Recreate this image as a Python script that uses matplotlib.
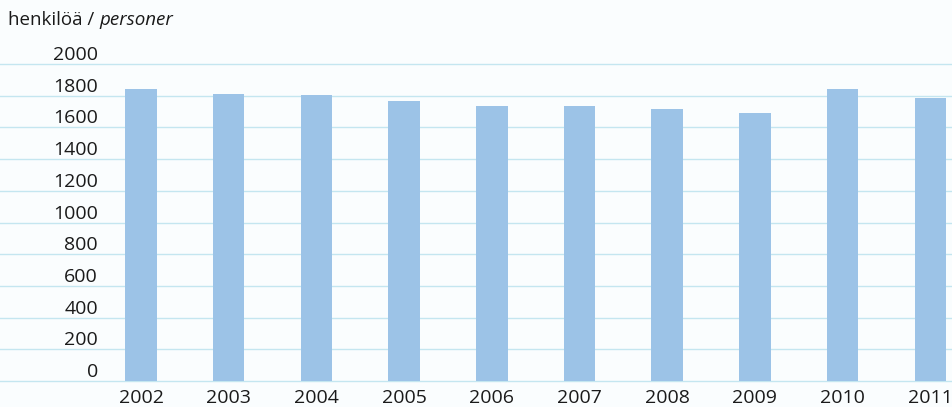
import numpy as np
import matplotlib
matplotlib.use("Agg")
import matplotlib.pyplot as plt
import matplotlib.transforms as mtransforms

plt.rcParams['font.family'] = ['Open Sans', 'DejaVu Sans']

# data
years = ["2002", "2003", "2004", "2005", "2006", "2007", "2008", "2009", "2010", "2011"]
persons = [1840, 1813, 1802, 1765, 1735, 1737, 1716, 1691, 1844, 1785]
yticks = [0, 200, 400, 600, 800, 1000, 1200, 1400, 1600, 1800, 2000]

W, H = 952, 407
bg = '#fafdfe'
fig = plt.figure(figsize=(W / 100, H / 100), dpi=100, facecolor=bg)

# axes spans the whole width so the grid lines run edge to edge
ax = fig.add_axes([0, (H - 385.75) / H, 1, (385.75 - 59.25) / H], facecolor=bg)

x = np.arange(len(years))
ax.bar(x, persons, width=0.36, color='#9cc3e7', zorder=2)

# place first bar centre at ~141 px, spacing ~87.7 px
step = 87.7
ax.set_xlim(-141 / step, (W - 141) / step)
ax.set_ylim(-30, 2030)

ax.set_yticks(yticks)
ax.grid(axis='y', color='#c4e6f0', lw=1.0, zorder=1)
ax.set_xticks([])
ax.tick_params(left=False, labelleft=False)
for s in ax.spines.values():
    s.set_visible(False)

# y labels sit to the left, slightly above their grid line
trans = mtransforms.blended_transform_factory(fig.transFigure, ax.transData)
off = mtransforms.ScaledTranslation(0, 9 / 100, fig.dpi_scale_trans)
for v in yticks:
    ax.text(98 / W, v, str(v), transform=trans + off, ha='right', va='center',
            fontsize=14, color='#1a1a1a', clip_on=False)

# year labels under the bars
for i, yr in enumerate(years):
    ax.text(i, 0, yr, transform=ax.transData + mtransforms.ScaledTranslation(0, -17 / 100, fig.dpi_scale_trans),
            ha='center', va='center', fontsize=14, color='#1a1a1a', clip_on=False)

t = fig.text(8 / W, 1 - 20 / H, "henkilöä / ", ha='left', va='center', fontsize=13.5, color='#1a1a1a')
fig.canvas.draw()
bb = t.get_window_extent()
fig.text(bb.x1 / W, 1 - 20 / H, "personer", ha='left', va='center', fontsize=13.5,
         style='italic', color='#1a1a1a')

fig.savefig("out.png", dpi=100, facecolor=bg)
